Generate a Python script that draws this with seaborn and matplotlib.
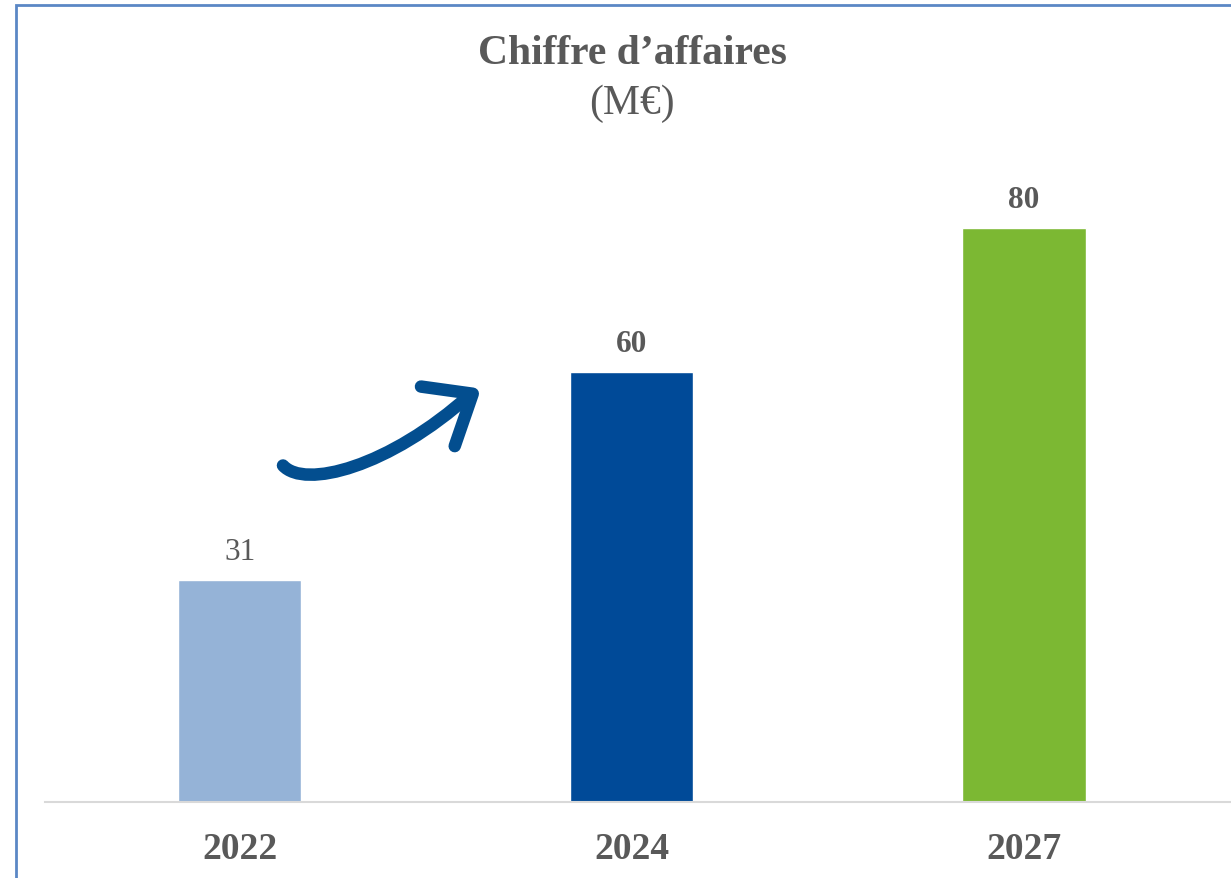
import matplotlib
matplotlib.use("Agg")
import matplotlib.pyplot as plt
import seaborn as sns
import pandas as pd
from matplotlib.path import Path
from matplotlib.patches import PathPatch, Rectangle

years = ["2022", "2024", "2027"]
values = [31, 60, 80]
colors = ["#95B3D7", "#004A98", "#7CB833"]
bold_labels = [False, True, True]

sns.set_theme(style="white")
plt.rcParams["font.family"] = ["Liberation Serif", "DejaVu Serif"]

df = pd.DataFrame({"year": years, "value": values})

fig = plt.figure(figsize=(12.31, 8.79), dpi=100)
ax = fig.add_axes([45 / 1231, 76 / 879, (1231 - 45) / 1231, (803 - 100) / 879])

sns.barplot(data=df, x="year", y="value", hue="year", palette=colors,
            width=0.314, legend=False, ax=ax, saturation=1)

ax.set_xlim(-0.497, 2.528)
ax.set_ylim(0, (803 - 100) / 7.175)

text_color = "#595959"
for i, (v, b) in enumerate(zip(values, bold_labels)):
    ax.annotate(str(v), (i, v), xytext=(0, 10), textcoords="offset points",
                ha="center", va="bottom", fontsize=22.5,
                fontweight="bold" if b else "normal", color=text_color)

ax.set_xlabel("")
ax.set_ylabel("")
ax.set_yticks([])
ax.tick_params(axis="x", length=0, pad=21)
for lbl in ax.get_xticklabels():
    lbl.set_fontsize(27)
    lbl.set_fontweight("bold")
    lbl.set_color(text_color)
for s in ["top", "right", "left"]:
    ax.spines[s].set_visible(False)
ax.spines["bottom"].set_color("#D9D9D9")
ax.spines["bottom"].set_linewidth(1.5)

# Title
fig.text(632 / 1231, 1 - 54 / 879, "Chiffre d\u2019affaires", ha="center", va="center",
         fontsize=30, fontweight="bold", color=text_color)
fig.text(632 / 1231, 1 - 104 / 879, "(M\u20ac)", ha="center", va="center",
         fontsize=30, color=text_color)

# Curved growth arrow (data coordinates)
arrow_color = "#034E8F"
curve = Path([(0.110, 46.9), (0.165, 43.6), (0.380, 46.6), (0.588, 56.8)],
             [Path.MOVETO, Path.CURVE4, Path.CURVE4, Path.CURVE4])
ax.add_patch(PathPatch(curve, fill=False, lw=9, color=arrow_color,
                       capstyle="round", joinstyle="round", clip_on=False))
head = Path([(0.462, 57.9), (0.594, 56.9), (0.548, 49.6)],
            [Path.MOVETO, Path.LINETO, Path.LINETO])
ax.add_patch(PathPatch(head, fill=False, lw=9, color=arrow_color,
                       capstyle="round", joinstyle="round", clip_on=False))

# Frame border (left and top visible)
fig.add_artist(Rectangle((15.5 / 1231, -0.1), 1.2, 1 - 5.5 / 879 + 0.1,
                         transform=fig.transFigure, fill=False,
                         edgecolor="#5B87C5", lw=2, clip_on=False))

fig.savefig("out.png", dpi=100, facecolor="white")
